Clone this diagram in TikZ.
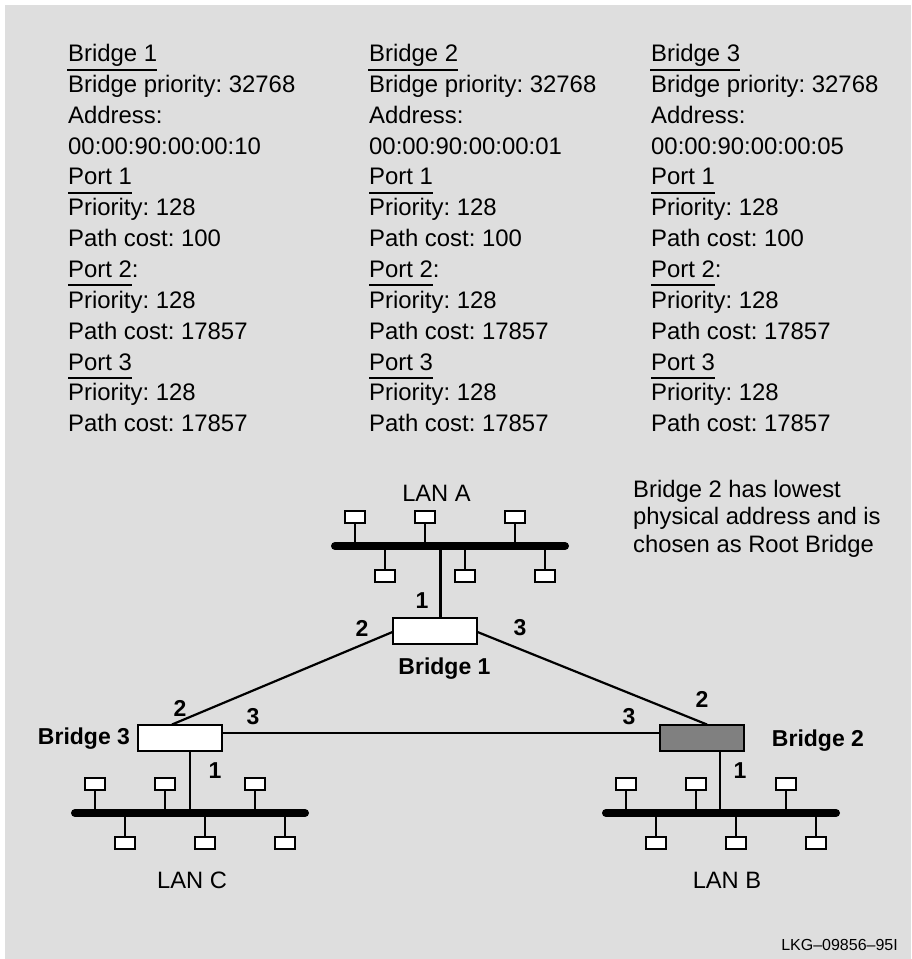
\documentclass[tikz,border=0pt]{standalone}
\usepackage{fontspec}
\setmainfont{Liberation Sans}
\definecolor{bggray}{HTML}{DEDEDE}
\definecolor{rootgray}{HTML}{808080}
\tikzset{
  x=1pt,y=-1pt,
  listtext/.style={anchor=base west,inner sep=0pt,font=\fontsize{23.9}{28}\selectfont,text=black},
  lantext/.style={anchor=center,inner sep=0pt,font=\fontsize{23.7}{28}\selectfont,text=black},
  notetext/.style={anchor=base west,inner sep=0pt,font=\fontsize{23.8}{26}\selectfont,text=black},
  boldtext/.style={anchor=center,inner sep=0pt,font=\bfseries\fontsize{23}{28}\selectfont,text=black},
  rule/.style={line width=2pt,black},
  wire/.style={line width=2.2pt,black},
  bus/.style={line width=8pt,line cap=round,black},
  bridgebox/.style={draw=black,line width=2.2pt,fill=white,minimum width=84pt,minimum height=26.5pt,inner sep=0pt},
  station/.style={draw=black,line width=2pt,fill=white,minimum width=20pt,minimum height=12pt,inner sep=0pt},
}
\newcommand{\infocol}[5]{% name prefix, x, title, address, title underline width
  \foreach \ln/\tx [count=\i from 0] in {t/{#3},bp/{Bridge priority: 32768},a/{Address:},m/{#4},pa/{Port 1},pb/{Priority: 128},pc/{Path cost: 100},qa/{Port 2:},qb/{Priority: 128},qc/{Path cost: 17857},ra/{Port 3},rb/{Priority: 128},rc/{Path cost: 17857}}{
    \node[listtext] (#1\ln) at (#2,61.5+30.85*\i) {\tx};
  }
  \draw[rule] ([xshift=-1pt,yshift=-8pt]#1t.base west) -- ++(#5,0);
  \draw[rule] ([yshift=-8pt]#1pa.base west) -- ++(64,0);
  \draw[rule] ([yshift=-8pt]#1qa.base west) -- ++(64,0);
  \draw[rule] ([yshift=-8pt]#1ra.base west) -- ++(64,0);
}
% LAN: prefix, x offset, y offset
\newcommand{\lan}[3]{%
  \begin{scope}[shift={(#2,#3)}]
    \coordinate (#1W) at (335,546);
    \coordinate (#1E) at (565,546);
    \foreach \k/\sx in {a/355,b/425,c/515}{
      \node[station] (#1\k) at (\sx,516.5) {};
      \coordinate (#1\k x) at (\sx,546);
      \draw[wire] (#1\k) -- (#1\k x);
    }
    \foreach \k/\sx in {d/385,e/465,f/545}{
      \node[station] (#1\k) at (\sx,576) {};
      \coordinate (#1\k x) at (\sx,546);
      \draw[wire] (#1\k) -- (#1\k x);
    }
    \draw[bus] (#1W) -- (#1E);
  \end{scope}
}
\begin{document}
\frenchspacing
\begin{tikzpicture}
\useasboundingbox (0,0) rectangle (911,959);
\fill[bggray] (5,5) rectangle (911,959);

\infocol{ca}{68}{Bridge 1}{00:00:90:00:00:10}{90}
\infocol{cb}{369}{Bridge 2}{00:00:90:00:00:01}{90}
\infocol{cc}{651}{Bridge 3}{00:00:90:00:00:05}{90}

\lan{la}{0}{0}
\lan{lc}{-260}{267}
\lan{lb}{271}{267}

\node[bridgebox] (b1) at (435,631) {};
\node[bridgebox] (b3) at (180,738) {};
\node[bridgebox,fill=rootgray] (b2) at (702,738) {};

\coordinate (labus) at (440.5,546);
\coordinate (b1top) at (440.5,617.5);
\coordinate (lcbus) at (190,813);
\coordinate (b3bot) at (190,751.5);
\coordinate (lbbus) at (720,813);
\coordinate (b2bot) at (720,751.5);
\coordinate (b3top) at (172,724.5);
\coordinate (b2top) at (707,724.5);
\coordinate (b1l) at (392.5,632);
\coordinate (b1r) at (477.5,632);
\coordinate (b3r) at (222.5,733);
\coordinate (b2l) at (659.5,733);

\draw[wire] (labus) -- (b1top);
\draw[wire] (lcbus) -- (b3bot);
\draw[wire] (lbbus) -- (b2bot);
\draw[wire] (b1l) -- (b3top);
\draw[wire] (b1r) -- (b2top);
\draw[wire] (b3r) -- (b2l);

\node[lantext] (lana) at (436.5,493.5) {LAN A};
\node[lantext] (lanc) at (192,880) {LAN C};
\node[lantext] (lanb) at (727,880.5) {LAN B};

\node[boldtext] (nb1) at (444.5,669) {Bridge 1};
\node[boldtext] (nb3) at (84,739) {Bridge 3};
\node[boldtext] (nb2) at (818,741) {Bridge 2};

\node[boldtext] (p1a) at (422,600.5) {1};
\node[boldtext] (p1b) at (362,628) {2};
\node[boldtext] (p1c) at (520,628) {3};
\node[boldtext] (p3a) at (215,771) {1};
\node[boldtext] (p3b) at (180,708) {2};
\node[boldtext] (p3c) at (253,717) {3};
\node[boldtext] (p2a) at (740,771) {1};
\node[boldtext] (p2b) at (702,699) {2};
\node[boldtext] (p2c) at (629,717) {3};

\node[notetext] (n1) at (633,497) {Bridge 2 has lowest};
\node[notetext] (n2) at (633,524.5) {physical address and is};
\node[notetext] (n3) at (633,552) {chosen as Root Bridge};

\node[anchor=base east,inner sep=0pt,font=\fontsize{16}{20}\selectfont,text=black] (lkg) at (898,950) {LKG–09856–95I};
\end{tikzpicture}
\end{document}
